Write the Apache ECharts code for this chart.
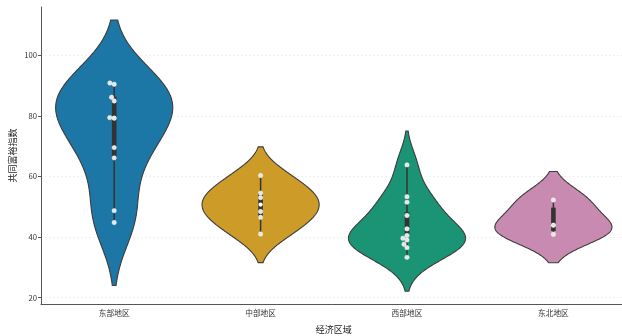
<!DOCTYPE html>
<html><head><meta charset="utf-8">
<script src="https://cdn.jsdelivr.net/npm/echarts@6/dist/echarts.min.js"></script>
<style>html,body{margin:0;padding:0;background:#fff}#c{width:622px;height:336px}</style>
</head><body><div id="c"></div>
<script>
// ---- data ----
const categories = ['东部地区', '中部地区', '西部地区', '东北地区'];
const eastValues = [90.8, 90.4, 86.1, 84.9, 79.4, 79.2, 69.5, 66.1, 48.7, 44.8];
const centralValues = [60.3, 54.5, 53.0, 48.4, 46.5, 41.0];
const westValues = [63.8, 53.3, 51.5, 47.1, 42.7, 40.5, 39.6, 39.0, 37.6, 36.5, 33.3];
const northeastValues = [52.2, 43.9, 40.9];
const whiskerLow = [44.8, 41.0, 33.3, 40.9];
const boxQ1 = [65.4, 46.2, 40.5, 42.0];
const boxMedian = [79.3, 50.7, 42.7, 43.9];
const boxQ3 = [86.3, 54.5, 48.2, 49.7];
const whiskerHigh = [90.4, 60.3, 63.8, 52.2];
const yTicks = [20, 40, 60, 80, 100];

const groupValues = [eastValues, centralValues, westValues, northeastValues];
const colors = ['#1c76a6', '#cd9b27', '#1a9474', '#c88ab0'];
const FONT = '"Noto Sans CJK SC", "DejaVu Sans", sans-serif';

// Gaussian KDE, Scott bandwidth, cut = 2 (like seaborn)
function kdeProfile(vals) {
  const n = vals.length;
  const mean = vals.reduce((a, b) => a + b, 0) / n;
  const sd = Math.sqrt(vals.reduce((a, b) => a + (b - mean) * (b - mean), 0) / (n - 1));
  const bw = sd * Math.pow(n, -0.2);
  const lo = Math.min(...vals) - 2 * bw, hi = Math.max(...vals) + 2 * bw;
  const N = 200, ys = [], ds = [];
  let mx = 0;
  for (let k = 0; k < N; k++) {
    const y = lo + (hi - lo) * k / (N - 1);
    let d = 0;
    for (const v of vals) { const z = (y - v) / bw; d += Math.exp(-0.5 * z * z); }
    ys.push(y); ds.push(d); if (d > mx) mx = d;
  }
  return { ys, ds: ds.map(d => d / mx) };
}
const profiles = groupValues.map(kdeProfile);

function swarmOffsets(pys, dist) {
  const order = pys.map((y, k) => k).sort((a, b) => pys[b] - pys[a]);
  const placed = [], xs = new Array(pys.length).fill(0);
  for (const k of order) {
    const y = pys[k];
    const cands = [0];
    for (const p of placed) {
      const dy = y - p.y;
      if (Math.abs(dy) < dist) {
        const off = Math.sqrt(dist * dist - dy * dy);
        cands.push(p.x - off, p.x + off);
      }
    }
    const sorted = cands.map((x, j) => ({ x, j })).sort((a, b) => (Math.abs(a.x) - Math.abs(b.x)) || (a.j - b.j));
    let chosen = 0;
    for (const c of sorted) {
      let ok = true;
      for (const p of placed) {
        const dx = c.x - p.x, dy = y - p.y;
        if (dx * dx + dy * dy < dist * dist - 1e-6) { ok = false; break; }
      }
      if (ok) { chosen = c.x; break; }
    }
    xs[k] = chosen;
    placed.push({ x: chosen, y });
  }
  return xs;
}

function renderItem(params, api) {
  const i = api.value(0);
  const prof = profiles[i];
  const cx = api.coord([i, 50])[0];
  const band = api.coord([1, 50])[0] - api.coord([0, 50])[0];
  const half = 0.4 * band;
  const right = [], left = [];
  for (let k = 0; k < prof.ys.length; k++) {
    const py = api.coord([i, prof.ys[k]])[1];
    right.push([cx + prof.ds[k] * half, py]);
    left.push([cx - prof.ds[k] * half, py]);
  }
  const poly = right.concat(left.reverse());
  const children = [];
  children.push({ type: 'polygon', shape: { points: poly },
    style: { fill: colors[i], stroke: '#3d3d3d', lineWidth: 1.1 } });
  const yLo = api.coord([i, whiskerLow[i]])[1], yHi = api.coord([i, whiskerHigh[i]])[1];
  children.push({ type: 'line', shape: { x1: cx, y1: yLo, x2: cx, y2: yHi },
    style: { stroke: '#333', lineWidth: 1.5 } });
  const yQ1 = api.coord([i, boxQ1[i]])[1], yQ3 = api.coord([i, boxQ3[i]])[1];
  children.push({ type: 'rect', shape: { x: cx - 2.3, y: yQ3, width: 4.6, height: yQ1 - yQ3 },
    style: { fill: '#333' } });
  const yMed = api.coord([i, boxMedian[i]])[1];
  children.push({ type: 'circle', shape: { cx: cx, cy: yMed, r: 2.1 }, style: { fill: '#fff' } });
  const pys = groupValues[i].map(v => api.coord([i, v])[1]);
  const offs = swarmOffsets(pys, 4.5);
  pys.forEach((py, k) => {
    children.push({ type: 'circle', shape: { cx: cx + offs[k], cy: py, r: 2.2 },
      style: { fill: '#e6e6e6', stroke: '#fafafa', lineWidth: 0.5 } });
  });
  return { type: 'group', children };
}

const chart = echarts.init(document.getElementById('c'), null, { renderer: 'canvas' });
chart.setOption({
  animation: false,
  backgroundColor: '#fff',
  textStyle: { fontFamily: FONT },
  grid: { left: 41, right: -4.6, top: 7, bottom: 32, containLabel: false, outerBoundsMode: 'none' },
  xAxis: {
    type: 'category', data: categories,
    name: '经济区域', nameLocation: 'middle', nameGap: 21, nameMoveOverlap: false,
    nameTextStyle: { fontSize: 9, color: '#222', fontFamily: FONT },
    axisLine: { lineStyle: { color: '#555', width: 1 } },
    axisTick: { alignWithLabel: true, length: 3, lineStyle: { color: '#555' } },
    axisLabel: { fontSize: 7.7, color: '#333', margin: 5, fontFamily: FONT },
    splitLine: { show: false }
  },
  yAxis: {
    type: 'value', min: 17.9, max: 115.9,
    name: '共同富裕指数', nameLocation: 'middle', nameGap: 24, nameRotate: 90, nameMoveOverlap: false,
    nameTextStyle: { fontSize: 9, color: '#222', fontFamily: FONT },
    axisLine: { show: true, lineStyle: { color: '#555', width: 1 } },
    axisTick: { show: true, length: 3, customValues: yTicks, lineStyle: { color: '#555' } },
    axisLabel: { customValues: yTicks, fontSize: 7.7, color: '#333', margin: 4, fontFamily: FONT },
    splitLine: { show: true, lineStyle: { color: '#ececec', width: 0.8, type: [2, 2] } }
  },
  series: [{
    type: 'custom', renderItem: renderItem,
    data: categories.map((c, i) => [i]),
    encode: { x: 0 }
  }]
});
</script></body></html>
